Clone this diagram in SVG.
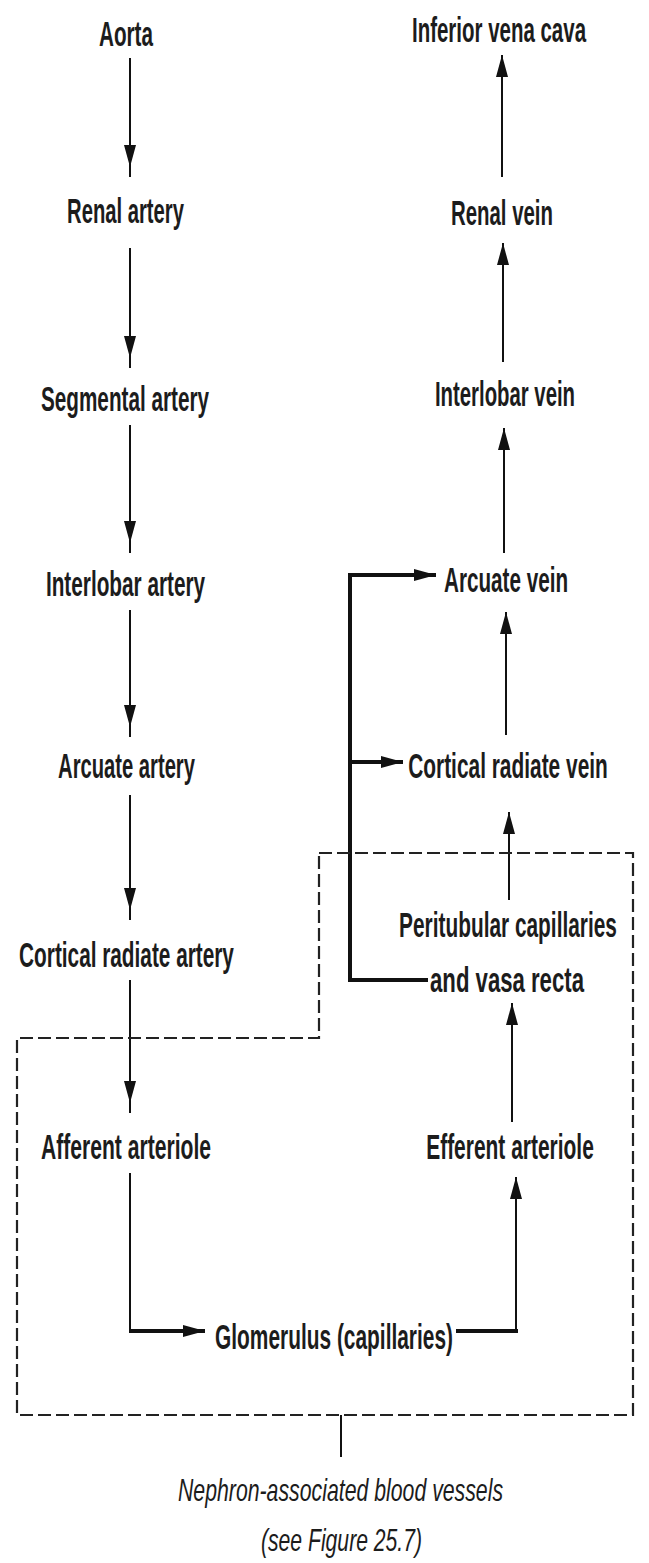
<svg xmlns="http://www.w3.org/2000/svg" width="649" height="1563" viewBox="0 0 649 1563">
<style>
.t{font-family:"Liberation Sans",Arial,sans-serif;font-size:35px;font-weight:bold;fill:#1c1c1c;text-anchor:middle}
.i{font-family:"Liberation Sans",Arial,sans-serif;font-size:32px;font-style:italic;fill:#1c1c1c;text-anchor:middle}
.thin{stroke:#111;stroke-width:2;fill:none}
.thick{stroke:#111;stroke-width:4;fill:none}
.dash{stroke:#222;stroke-width:2.2;fill:none;stroke-dasharray:13 5}
</style>
<defs>
<marker id="ah" markerUnits="userSpaceOnUse" markerWidth="30" markerHeight="14" viewBox="0 -7 30 14" refX="22" refY="0" orient="auto">
<path d="M0,-6 L22,0 L0,6 Z" fill="#111"/>
</marker>
<marker id="ahg" markerUnits="userSpaceOnUse" markerWidth="40" markerHeight="14" viewBox="0 -7 40 14" refX="32" refY="0" orient="auto">
<path d="M0,-6 L22,0 L0,6 Z" fill="#111"/>
</marker>
</defs>
<rect width="649" height="1563" fill="#fff"/>
<g id="connectors">
<path class="thin" d="M130,58 V177" marker-end="url(#ahg)"/>
<path class="thin" d="M130,248 V368" marker-end="url(#ahg)"/>
<path class="thin" d="M130,425 V553" marker-end="url(#ahg)"/>
<path class="thin" d="M130,610 V737" marker-end="url(#ahg)"/>
<path class="thin" d="M130,795 V920" marker-end="url(#ahg)"/>
<path class="thin" d="M130,980 V1113" marker-end="url(#ahg)"/>
<path class="thin" d="M130,1173 V1332"/>
<path class="thick" d="M129,1331 H205" marker-end="url(#ah)"/>
<path class="thick" d="M456,1331 H518"/>
<path class="thin" d="M516,1333 V1177" marker-end="url(#ah)"/>
<path class="thin" d="M512,1122 V1003" marker-end="url(#ah)"/>
<path class="thin" d="M509,900 V812" marker-end="url(#ah)"/>
<path class="thin" d="M506,735 V612" marker-end="url(#ah)"/>
<path class="thin" d="M504,553 V428" marker-end="url(#ah)"/>
<path class="thin" d="M503,362 V243" marker-end="url(#ah)"/>
<path class="thin" d="M502,177 V55" marker-end="url(#ah)"/>
<path class="thick" d="M428,980 H350 V575 H436" marker-end="url(#ah)"/>
<path class="thick" d="M350,762 H403" marker-end="url(#ah)"/>
<path class="thin" d="M341,1415 V1457"/>
</g>
<g id="nephron-box">
<path class="dash" d="M319,853 H633 V1415 H17 V1038 H319 Z"/>
</g>
<g id="aorta"><text class="t" transform="translate(126,46) scale(0.591,1)">Aorta</text></g>
<g id="renal-artery"><text class="t" transform="translate(125.5,223) scale(0.578,1)">Renal artery</text></g>
<g id="segmental-artery"><text class="t" transform="translate(125,411) scale(0.592,1)">Segmental artery</text></g>
<g id="interlobar-artery"><text class="t" transform="translate(125.5,596) scale(0.593,1)">Interlobar artery</text></g>
<g id="arcuate-artery"><text class="t" transform="translate(126.5,778) scale(0.577,1)">Arcuate artery</text></g>
<g id="cortical-radiate-artery"><text class="t" transform="translate(126.5,967) scale(0.594,1)">Cortical radiate artery</text></g>
<g id="afferent-arteriole"><text class="t" transform="translate(126,1159) scale(0.603,1)">Afferent arteriole</text></g>
<g id="glomerulus"><text class="t" transform="translate(334,1349) scale(0.597,1)">Glomerulus (capillaries)</text></g>
<g id="efferent-arteriole"><text class="t" transform="translate(510,1159) scale(0.599,1)">Efferent arteriole</text></g>
<g id="peritubular"><text class="t" transform="translate(508,937) scale(0.596,1)">Peritubular capillaries</text><text class="t" transform="translate(507,992) scale(0.633,1)">and vasa recta</text></g>
<g id="cortical-radiate-vein"><text class="t" transform="translate(508,778) scale(0.597,1)">Cortical radiate vein</text></g>
<g id="arcuate-vein"><text class="t" transform="translate(506,592) scale(0.591,1)">Arcuate vein</text></g>
<g id="interlobar-vein"><text class="t" transform="translate(505,406) scale(0.581,1)">Interlobar vein</text></g>
<g id="renal-vein"><text class="t" transform="translate(502,225) scale(0.583,1)">Renal vein</text></g>
<g id="inferior-vena-cava"><text class="t" transform="translate(499,42) scale(0.585,1)">Inferior vena cava</text></g>
<g id="caption"><text class="i" transform="translate(340.5,1501) scale(0.665,1)">Nephron-associated blood vessels</text><text class="i" transform="translate(341.5,1551) scale(0.661,1)">(see Figure 25.7)</text></g>
</svg>
